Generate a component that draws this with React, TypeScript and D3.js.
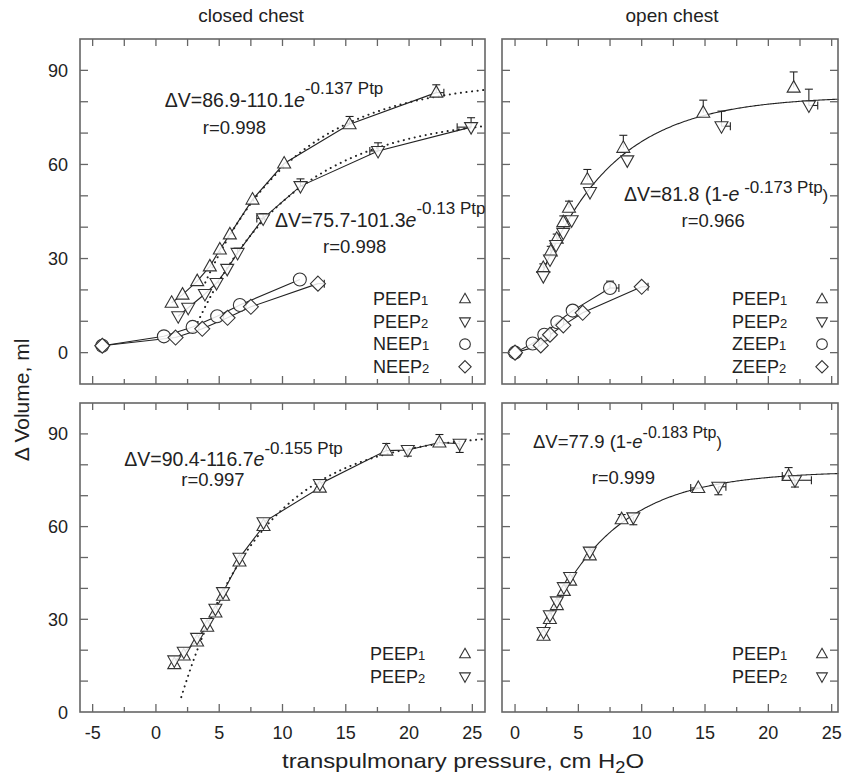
import React from "react";
import * as d3 from "d3";

// ---- closed chest, top (PEEP / NEEP) ----
const tlPeep1X = [1.24, 2.1, 3.26, 4.26, 5.05, 5.84, 7.63, 10.13, 15.3, 22.15];
const tlPeep1Y = [15.9, 18.5, 22.8, 27.5, 32.9, 37.7, 48.8, 60.3, 72.8, 82.9];
const tlPeep1YErr = [0, 0, 0, 0, 0, 0, 0, 0, 2.5, 2.5];
const tlPeep1XErr = [0, 0, 0, 0, 0, 0, 0, 0, 0, 0.6];
const tlPeep2X = [1.76, 2.55, 3.87, 4.79, 5.63, 6.45, 8.47, 11.42, 17.55, 24.9];
const tlPeep2Y = [11.6, 14.3, 18.7, 22.2, 26.7, 31.8, 42.8, 53.1, 64.3, 71.9];
const tlPeep2YErr = [0, 0, 0, 0, 0, 1.5, 1.5, 2.3, 2.6, 3];
const tlPeep2XErr = [0, 0, 0, 0, 0, 0, -0.5, 0, -0.65, -1.1];
const tlNeep1X = [-4.24, 0.63, 2.9, 4.84, 6.63, 11.37];
const tlNeep1Y = [2.2, 5.2, 8.2, 11.6, 15.2, 23.3];
const tlNeep2X = [-4.24, 1.55, 3.66, 5.66, 7.5, 12.8];
const tlNeep2Y = [2.2, 4.8, 7.6, 11.1, 14.6, 22.0];
const tlNeep2XErr = [0, 0, 0, 0, 0, 0.5];

// ---- open chest, top (PEEP / ZEEP) ----
const trPeep1X = [2.23, 2.82, 3.29, 3.81, 4.26, 5.71, 8.55, 14.86, 22.0];
const trPeep1Y = [27.0, 32.3, 36.3, 41.6, 46.2, 55.2, 65.3, 76.5, 84.5];
const trPeep1YErr = [1.3, 1.6, 1.5, 2, 2.1, 3.2, 4, 4, 5];
const trPeep2X = [2.23, 2.76, 3.24, 3.81, 4.47, 5.92, 8.86, 16.3, 23.2];
const trPeep2Y = [24.4, 29.7, 34.3, 38.2, 42.2, 51.2, 61.3, 72.2, 78.8];
const trPeep2YErr = [0, 0, 0, 0, 0, 0, 0, 4.8, 5.2];
const trPeep2XErr = [0, 0, 0, 0, 0, 0, 0, 0.7, 0.7];
const trZeep1X = [0, 1.39, 2.31, 3.34, 4.55, 7.5];
const trZeep1Y = [0, 2.9, 5.7, 9.7, 13.4, 20.6];
const trZeep1YErr = [0, 0, 0, 0, 0, 2.2];
const trZeep1XErr = [0, 0, 0, 0, 0, 0.7];
const trZeep2X = [0, 2.03, 2.76, 3.81, 5.34, 10.0];
const trZeep2Y = [0, 2.3, 5.7, 8.7, 12.7, 21.0];
const trZeep2XErr = [0, 0, 0, 0, 0, 0.5];

// ---- closed chest, bottom (PEEP) ----
const blPeep1X = [1.45, 2.2, 3.25, 4.05, 4.7, 5.3, 6.6, 8.5, 12.95, 18.2, 22.4];
const blPeep1Y = [15.5, 18.3, 22.8, 27.6, 32.2, 37.6, 48.7, 60.2, 72.6, 84.6, 87.2];
const blPeep1YErr = [0, 0, 0, 0, 0, 0, 0, 0, 0, 2.3, 2.6];
const blPeep2X = [1.45, 2.2, 3.25, 4.05, 4.7, 5.3, 6.6, 8.5, 12.95, 19.9, 24.0];
const blPeep2Y = [16.7, 19.5, 24.0, 28.8, 33.4, 38.8, 49.9, 61.4, 73.8, 84.8, 86.8];
const blPeep2YErr = [0, 0, 0, 0, 0, 0, 0, 0, 1.2, -2.0, -2.8];

// ---- open chest, bottom (PEEP) ----
const brPeep1X = [2.25, 2.75, 3.3, 3.85, 4.35, 5.9, 8.42, 14.47, 21.6];
const brPeep1Y = [24.7, 30.1, 34.6, 39.2, 42.5, 50.7, 62.4, 72.5, 76.4];
const brPeep1YErr = [0, 0, 0, 0, 0, 0, 1.5, 0, 2.7];
const brPeep1XErr = [0, 0, 0, 0, 0, 0, 0, -0.6, -0.5];
const brPeep2X = [2.25, 2.75, 3.3, 3.85, 4.35, 5.9, 9.34, 16.05, 22.1];
const brPeep2Y = [25.9, 31.3, 35.8, 40.4, 43.7, 51.9, 63.0, 72.9, 75.0];
const brPeep2YErr = [0, 1.2, 0, 1.2, 0, 1.2, -2.4, -2.6, -2.2];
const brPeep2XErr = [0, 0, 0, 0, 0, 0, 0, 0.6, 1.3];

const xTicksLeft = [-5, -2.5, 0, 2.5, 5, 7.5, 10, 12.5, 15, 17.5, 20, 22.5, 25];
const xTicksRight = [0, 2.5, 5, 7.5, 10, 12.5, 15, 17.5, 20, 22.5, 25];
const xLabelsLeft = [-5, 0, 5, 10, 15, 20, 25];
const xLabelsRight = [0, 5, 10, 15, 20, 25];
const yTicksTop = [0, 10, 20, 30, 40, 50, 60, 70, 80, 90];
const yTicksBottom = [10, 20, 30, 40, 50, 60, 70, 80, 90];
const yLabels = [0, 30, 60, 90];

const FONT = "'Liberation Sans', Arial, Helvetica, sans-serif";
const INK = "#222";
const FRAME = "#666";

type Shape = "up" | "down" | "circle" | "diamond";

function markerPath(shape: Shape, s = 1) {
  if (shape === "up") return `M0,${-7 * s}L${6.5 * s},${4.5 * s}L${-6.5 * s},${4.5 * s}Z`;
  if (shape === "down") return `M0,${7 * s}L${6.5 * s},${-4.5 * s}L${-6.5 * s},${-4.5 * s}Z`;
  if (shape === "diamond") return `M0,${-7.5 * s}L${7.5 * s},0L0,${7.5 * s}L${-7.5 * s},0Z`;
  const r = 6.5 * s;
  return `M${-r},0a${r},${r} 0 1,0 ${2 * r},0a${r},${r} 0 1,0 ${-2 * r},0`;
}

const fit1 = (a: number, b: number, k: number) => (p: number) => a - b * Math.exp(-k * p);
const fit2 = (a: number, k: number) => (p: number) => a * (1 - Math.exp(-k * p));

const Panel = ({cfg}: {cfg: any}) => {
  const {box, xDom, yDom} = cfg;
  const x = d3.scaleLinear().domain(xDom).range([box.left, box.right]);
  const y = d3.scaleLinear().domain(yDom).range([box.bottom, box.top]);
  const line = d3.line<[number, number]>().x(d => x(d[0])).y(d => y(d[1]));

  return (
    <g>
      {/* fitted curves */}
      {cfg.fits.map((f: any, i: number) => {
        const pts: [number, number][] = d3.range(f.from, f.to + 0.001, 0.1).map(p => [p, f.fn(p)]);
        return (
          <path key={"f" + i} d={line(pts) || ""} fill="none" stroke={INK}
            strokeWidth={f.dotted ? 2 : 1.1}
            strokeDasharray={f.dotted ? "0.1,5.5" : undefined}
            strokeLinecap="round" />
        );
      })}
      {/* lines joining points */}
      {cfg.joins.map((pts: [number, number][], i: number) => (
        <path key={"j" + i} d={line(pts) || ""} fill="none" stroke={INK} strokeWidth={1.1} />
      ))}
      {/* error bars */}
      {cfg.series.map((s: any, si: number) => s.x.map((xv: number, i: number) => {
        const ye = s.yErr ? s.yErr[i] : 0;
        const xe = s.xErr ? s.xErr[i] : 0;
        const cx = x(xv), cy = y(s.y[i]);
        return (
          <g key={`e${si}-${i}`} stroke={INK} strokeWidth={1.1}>
            {ye !== 0 && <>
              <line x1={cx} y1={cy} x2={cx} y2={y(s.y[i] + ye)} />
              <line x1={cx - 4} x2={cx + 4} y1={y(s.y[i] + ye)} y2={y(s.y[i] + ye)} />
            </>}
            {xe !== 0 && <>
              <line x1={cx} y1={cy} x2={x(xv + xe)} y2={cy} />
              <line x1={x(xv + xe)} x2={x(xv + xe)} y1={cy - 4} y2={cy + 4} />
            </>}
          </g>
        );
      }))}
      {/* markers */}
      {cfg.series.map((s: any, si: number) => s.x.map((xv: number, i: number) => (
        <path key={`m${si}-${i}`} transform={`translate(${x(xv)},${y(s.y[i])})`}
          d={markerPath(s.shape)} fill="white" fillOpacity={0.85} stroke="#333" strokeWidth={1.1} />
      )))}
      {/* frame */}
      <rect x={box.left} y={box.top} width={box.right - box.left} height={box.bottom - box.top}
        fill="none" stroke={FRAME} strokeWidth={1.6} />
      {/* ticks */}
      <g stroke={FRAME} strokeWidth={1.3}>
        {cfg.xTicks.map((t: number) => {
          const len = t % 5 === 0 ? 8 : 5;
          return (
            <g key={"xt" + t}>
              <line x1={x(t)} x2={x(t)} y1={box.bottom} y2={box.bottom - len} />
              <line x1={x(t)} x2={x(t)} y1={box.top} y2={box.top + 7} />
            </g>
          );
        })}
        {cfg.yTicks.map((t: number) => (
          <g key={"yt" + t}>
            <line x1={box.left} x2={box.left + 8} y1={y(t)} y2={y(t)} />
            <line x1={box.right} x2={box.right - 8} y1={y(t)} y2={y(t)} />
          </g>
        ))}
      </g>
      {cfg.xLabels && cfg.xLabels.map((t: number) => (
        <text key={"xl" + t} x={x(t)} y={box.bottom + 27} textAnchor="middle" fontSize={18} fill={INK}>{t}</text>
      ))}
      {cfg.yLabelsOn && yLabels.map((t: number) => (
        <text key={"yl" + t} x={box.left - 12} y={y(t) + 6.5} textAnchor="end" fontSize={18} fill={INK}>{t}</text>
      ))}
      {/* equations */}
      {cfg.eqs.map((e: any, i: number) => (
        <g key={"eq" + i} fill={INK}>
          <text x={x(e.x)} y={y(e.y)} fontSize={e.fs}>
            {e.pre}<tspan fontStyle="italic">e</tspan>
            <tspan dy={-e.raise} fontSize={e.sfs}>{e.sup}</tspan>
            {e.post && <tspan dy={e.raise} fontSize={e.sfs}>{e.post}</tspan>}
          </text>
          <text x={x(e.rx)} y={y(e.ry)} fontSize={18.5}>{e.r}</text>
        </g>
      ))}
      {/* legend */}
      {cfg.legend.map((l: any, i: number) => {
        const by = box.bottom - cfg.legendTop + i * 22.6;
        return (
          <g key={"lg" + i}>
            <text x={box.right - cfg.legendText} y={by} fontSize={18} fill={INK}>
              {l.name}<tspan fontSize={13}>{l.sub}</tspan>
            </text>
            <path transform={`translate(${box.right - cfg.legendSym},${by - 6})`}
              d={markerPath(l.shape, 0.82)} fill="white" stroke="#333" strokeWidth={1.1} />
          </g>
        );
      })}
    </g>
  );
};

const zip = (xs: number[], ys: number[]) => xs.map((v, i) => [v, ys[i]] as [number, number]);

const App = () => {
  const tl = {
    box: {left: 80, top: 39, right: 485, bottom: 384},
    xDom: [-6, 26], yDom: [-10, 100],
    xTicks: xTicksLeft, yTicks: yTicksTop, yLabelsOn: true,
    fits: [
      {fn: fit1(86.9, 110.1, 0.137), from: 3.9, to: 26, dotted: true},
      {fn: fit1(75.7, 101.3, 0.13), from: 3.3, to: 26, dotted: true},
    ],
    joins: [zip(tlPeep1X, tlPeep1Y), zip(tlPeep2X, tlPeep2Y), zip(tlNeep1X, tlNeep1Y), zip(tlNeep2X, tlNeep2Y)],
    series: [
      {x: tlNeep1X, y: tlNeep1Y, shape: "circle"},
      {x: tlNeep2X, y: tlNeep2Y, xErr: tlNeep2XErr, shape: "diamond"},
      {x: tlPeep1X, y: tlPeep1Y, yErr: tlPeep1YErr, xErr: tlPeep1XErr, shape: "up"},
      {x: tlPeep2X, y: tlPeep2Y, yErr: tlPeep2YErr, xErr: tlPeep2XErr, shape: "down"},
    ],
    eqs: [
      {x: 0.7, y: 78.2, pre: "ΔV=86.9-110.1", sup: "-0.137 Ptp", raise: 13, fs: 19.5, sfs: 17, r: "r=0.998", rx: 3.7, ry: 69.6},
      {x: 9.4, y: 39.9, pre: "ΔV=75.7-101.3", sup: "-0.13 Ptp", raise: 13, fs: 19.5, sfs: 17, r: "r=0.998", rx: 13.2, ry: 31.9},
    ],
    legend: [
      {name: "PEEP", sub: "1", shape: "up"}, {name: "PEEP", sub: "2", shape: "down"},
      {name: "NEEP", sub: "1", shape: "circle"}, {name: "NEEP", sub: "2", shape: "diamond"},
    ],
    legendTop: 79, legendText: 112, legendSym: 20,
  };
  const tr = {
    box: {left: 502, top: 39, right: 838, bottom: 384},
    xDom: [-1.03, 25.5], yDom: [-10, 100],
    xTicks: xTicksRight, yTicks: yTicksTop, yLabelsOn: false,
    fits: [{fn: fit2(81.8, 0.173), from: 2.2, to: 25.5, dotted: false}],
    joins: [zip(trZeep1X, trZeep1Y), zip(trZeep2X, trZeep2Y)],
    series: [
      {x: trZeep1X, y: trZeep1Y, yErr: trZeep1YErr, xErr: trZeep1XErr, shape: "circle"},
      {x: trZeep2X, y: trZeep2Y, xErr: trZeep2XErr, shape: "diamond"},
      {x: trPeep1X, y: trPeep1Y, yErr: trPeep1YErr, shape: "up"},
      {x: trPeep2X, y: trPeep2Y, yErr: trPeep2YErr, xErr: trPeep2XErr, shape: "down"},
    ],
    eqs: [
      {x: 8.6, y: 48.2, pre: "ΔV=81.8 (1-", sup: " -0.173 Ptp", post: ")", raise: 8, fs: 19.5, sfs: 17, r: "r=0.966", rx: 13.15, ry: 39.9},
    ],
    legend: [
      {name: "PEEP", sub: "1", shape: "up"}, {name: "PEEP", sub: "2", shape: "down"},
      {name: "ZEEP", sub: "1", shape: "circle"}, {name: "ZEEP", sub: "2", shape: "diamond"},
    ],
    legendTop: 79, legendText: 106, legendSym: 16,
  };
  const blJoin = zip(d3.merge([blPeep1X, blPeep2X]), d3.merge([blPeep1Y, blPeep2Y]))
    .sort((a, b) => a[0] - b[0] || a[1] - b[1]);
  const bl = {
    box: {left: 80, top: 403, right: 485, bottom: 712},
    xDom: [-6, 26], yDom: [0, 100],
    xTicks: xTicksLeft, yTicks: yTicksBottom, yLabelsOn: true, xLabels: xLabelsLeft,
    fits: [{fn: fit1(90.4, 116.7, 0.155), from: 2.0, to: 26, dotted: true}],
    joins: [blJoin],
    series: [
      {x: blPeep1X, y: blPeep1Y, yErr: blPeep1YErr, shape: "up"},
      {x: blPeep2X, y: blPeep2Y, yErr: blPeep2YErr, shape: "down"},
    ],
    eqs: [
      {x: -2.5, y: 79.7, pre: "ΔV=90.4-116.7", sup: "-0.155 Ptp", raise: 12, fs: 19.5, sfs: 17, r: "r=0.997", rx: 2.0, ry: 73.2},
    ],
    legend: [{name: "PEEP", sub: "1", shape: "up"}, {name: "PEEP", sub: "2", shape: "down"}],
    legendTop: 52, legendText: 115, legendSym: 20,
  };
  const br = {
    box: {left: 502, top: 403, right: 838, bottom: 712},
    xDom: [-1.03, 25.5], yDom: [0, 100],
    xTicks: xTicksRight, yTicks: yTicksBottom, yLabelsOn: false, xLabels: xLabelsRight,
    fits: [{fn: fit2(77.9, 0.183), from: 2.2, to: 25.5, dotted: false}],
    joins: [],
    series: [
      {x: brPeep1X, y: brPeep1Y, yErr: brPeep1YErr, xErr: brPeep1XErr, shape: "up"},
      {x: brPeep2X, y: brPeep2Y, yErr: brPeep2YErr, xErr: brPeep2XErr, shape: "down"},
    ],
    eqs: [
      {x: 1.42, y: 85.5, pre: "ΔV=77.9 (1-", sup: "-0.183 Ptp", post: ")", raise: 10, fs: 18.5, sfs: 16, r: "r=0.999", rx: 6.05, ry: 73.8},
    ],
    legend: [{name: "PEEP", sub: "1", shape: "up"}, {name: "PEEP", sub: "2", shape: "down"}],
    legendTop: 52, legendText: 106, legendSym: 16,
  };

  return (
    <svg width={845} height={781} style={{position: "absolute", left: 0, top: 0, background: "white"}}
      fontFamily={FONT}>
      <rect width={845} height={781} fill="white" />
      <text x={251} y={22} textAnchor="middle" fontSize={19} fill={INK}>closed chest</text>
      <text x={672} y={22} textAnchor="middle" fontSize={19} fill={INK}>open chest</text>
      <Panel cfg={tl} />
      <Panel cfg={tr} />
      <Panel cfg={bl} />
      <Panel cfg={br} />
      <text transform="translate(29,400) rotate(-90)" textAnchor="middle" fontSize={21} fill={INK}>Δ Volume, ml</text>
      <text x={463} y={768} textAnchor="middle" fontSize={21} textLength={362} lengthAdjust="spacingAndGlyphs" fill={INK}>
        transpulmonary pressure, cm H<tspan dy={5} fontSize={16}>2</tspan><tspan dy={-5}>O</tspan>
      </text>
    </svg>
  );
};

export default App;
